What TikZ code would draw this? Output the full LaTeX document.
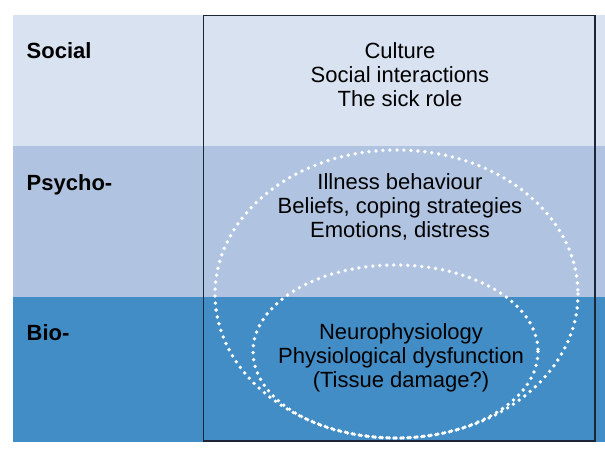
\documentclass[tikz,border=0pt]{standalone}
\usepackage{fontspec}
\setmainfont{Liberation Sans}
\definecolor{socialc}{HTML}{D9E2F1}
\definecolor{psychoc}{HTML}{B0C4E1}
\definecolor{bioc}{HTML}{438DC6}
\definecolor{framec}{HTML}{1B2533}
\begin{document}
\begin{tikzpicture}[x=1pt,y=-1pt,
  lbl/.style={anchor=base west,inner sep=0pt,font=\fontsize{22}{23.5}\selectfont\bfseries},
  txt/.style={anchor=base,inner sep=0pt,align=center,font=\fontsize{22}{24}\selectfont,text=black},
  dots/.style={draw=white,line width=3.8pt,line cap=round,dash pattern=on 0pt off 7pt}]
\useasboundingbox (0,0) rectangle (605,455);
\fill[socialc] (13,15) rectangle (605,146);
\fill[psychoc] (13,146) rectangle (605,297);
\fill[bioc] (13,297) rectangle (605,442);
\draw[dots] (396.5,294) ellipse [x radius=181.5, y radius=144];
\draw[dots] (395.5,351.5) ellipse [x radius=142.5, y radius=86.5];
\draw[framec,line width=1.6pt] (203.5,15.5) rectangle (595,441);
\node[lbl] (social) at (26.5,58.3) {Social};
\node[lbl] (psycho) at (26.5,190) {Psycho-};
\node[lbl] (bio) at (26.5,340.5) {Bio-};
\node[txt] (soctxt) at (400,106) {Culture\\Social interactions\\The sick role};
\node[txt] (psytxt) at (400,237) {Illness behaviour\\Beliefs, coping strategies\\Emotions, distress};
\node[txt] (biotxt) at (401,387) {Neurophysiology\\Physiological dysfunction\\(Tissue damage?)};
\end{tikzpicture}
\end{document}
